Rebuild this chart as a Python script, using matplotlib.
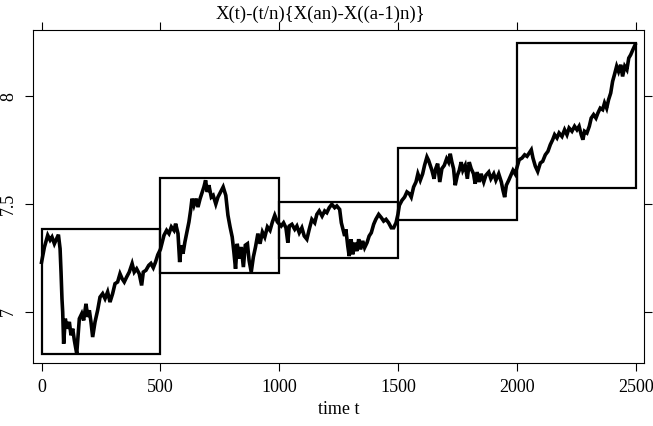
import matplotlib
matplotlib.use("Agg")
import matplotlib.pyplot as plt
from matplotlib.patches import Rectangle

# path (time, value)
t = [0, 12, 26, 36, 44, 54, 64, 71, 78, 82, 86, 89, 93, 100, 107, 117, 124, 131,
     138, 148, 155, 159, 169, 177, 187, 194, 201, 208, 215, 225, 236, 246, 257,
     267, 278, 288, 299, 309, 320, 330, 339, 348, 358, 369, 381, 390, 400, 411,
     421, 428, 439, 451, 460, 470, 479, 489, 500,
     515, 526, 536, 546, 557, 564, 574, 581, 588, 595, 603, 613, 620, 627, 633,
     641, 650, 658, 667, 676, 683, 690, 697, 704, 714, 722, 733, 742, 753, 764,
     775, 784, 793, 802, 809, 816, 823, 832, 840, 849, 857, 866, 873, 882, 891,
     900, 910, 919, 929, 939, 950, 961, 971, 981, 992,
     1008, 1018, 1028, 1036, 1042, 1053, 1065, 1074, 1084, 1095, 1105, 1116,
     1126, 1137, 1149, 1158, 1168, 1180, 1191, 1200, 1210, 1221, 1233, 1242,
     1254, 1261, 1268, 1275, 1280, 1288, 1294, 1302, 1309, 1317, 1326, 1334,
     1342, 1351, 1359, 1369, 1378, 1387, 1397, 1406, 1418, 1429, 1439, 1449,
     1460, 1471, 1481, 1491, 1499,
     1505, 1516, 1527, 1537, 1547, 1555, 1565, 1575, 1583, 1593, 1603, 1611,
     1621, 1628, 1635, 1642, 1651, 1658, 1666, 1675, 1684, 1694, 1704, 1712,
     1719, 1726, 1733, 1740, 1749, 1757, 1765, 1772, 1782, 1791, 1799, 1807,
     1817, 1824, 1832, 1841, 1849, 1860, 1869, 1881, 1890, 1902, 1911, 1923,
     1934, 1941, 1948, 1955, 1965, 1974, 1983, 1992, 2000,
     2009, 2021, 2032, 2042, 2051, 2060, 2067, 2077, 2087, 2098, 2108, 2119,
     2130, 2140, 2150, 2158, 2168, 2177, 2189, 2200, 2210, 2219, 2231, 2242,
     2252, 2261, 2270, 2277, 2284, 2294, 2304, 2312, 2322, 2332, 2340, 2350,
     2360, 2368, 2377, 2385, 2394, 2402, 2410, 2419, 2427, 2436, 2444, 2453,
     2462, 2470, 2478, 2487, 2497]
x = [7.23, 7.30, 7.355, 7.333, 7.347, 7.316, 7.34, 7.358, 7.293, 7.185, 7.06,
     7.0, 6.853, 6.969, 6.923, 6.954, 6.892, 6.923, 6.869, 6.807, 6.907, 6.969,
     6.992, 6.961, 7.038, 6.977, 7.008, 6.954, 6.884, 6.954, 7.008, 7.069,
     7.085, 7.062, 7.093, 7.046, 7.085, 7.131, 7.139, 7.177, 7.154, 7.139,
     7.162, 7.185, 7.224, 7.185, 7.20, 7.177, 7.123, 7.185, 7.193, 7.216,
     7.225, 7.205, 7.23, 7.265, 7.29,
     7.355, 7.378, 7.363, 7.394, 7.378, 7.409, 7.363, 7.231, 7.309, 7.27,
     7.324, 7.378, 7.417, 7.47, 7.525, 7.494, 7.525, 7.486, 7.525, 7.556,
     7.579, 7.61, 7.556, 7.587, 7.532, 7.54, 7.50, 7.532, 7.556, 7.579, 7.54,
     7.448, 7.394, 7.347, 7.278, 7.20, 7.316, 7.247, 7.301, 7.208, 7.309,
     7.316, 7.239, 7.185, 7.255, 7.301, 7.363, 7.316, 7.37, 7.347, 7.394,
     7.378, 7.417, 7.448, 7.417,
     7.398, 7.413, 7.39, 7.321, 7.398, 7.406, 7.383, 7.398, 7.367, 7.39,
     7.352, 7.337, 7.383, 7.429, 7.413, 7.452, 7.468, 7.444, 7.468, 7.46,
     7.483, 7.499, 7.483, 7.491, 7.475, 7.413, 7.383, 7.352, 7.383, 7.306,
     7.259, 7.337, 7.267, 7.321, 7.282, 7.337, 7.29, 7.329, 7.298, 7.321,
     7.352, 7.367, 7.406, 7.429, 7.452, 7.437, 7.421, 7.429, 7.413, 7.39,
     7.39, 7.413, 7.452,
     7.494, 7.517, 7.532, 7.556, 7.548, 7.532, 7.579, 7.602, 7.64, 7.61,
     7.64, 7.679, 7.718, 7.702, 7.679, 7.656, 7.617, 7.664, 7.687, 7.602,
     7.664, 7.679, 7.71, 7.694, 7.733, 7.694, 7.664, 7.587, 7.633, 7.656,
     7.694, 7.656, 7.679, 7.617, 7.694, 7.664, 7.64, 7.594, 7.648, 7.602,
     7.64, 7.602, 7.633, 7.648, 7.617, 7.64, 7.61, 7.64, 7.602, 7.563,
     7.532, 7.587, 7.61, 7.633, 7.656, 7.64, 7.671,
     7.705, 7.713, 7.728, 7.721, 7.736, 7.751, 7.713, 7.675, 7.651, 7.69,
     7.698, 7.728, 7.744, 7.775, 7.798, 7.821, 7.806, 7.829, 7.813, 7.844,
     7.821, 7.852, 7.837, 7.86, 7.844, 7.86, 7.821, 7.798, 7.837, 7.829,
     7.86, 7.898, 7.914, 7.898, 7.921, 7.944, 7.937, 7.968, 7.944, 7.983,
     8.014, 8.068, 8.10, 8.138, 8.114, 8.145, 8.091, 8.138, 8.122, 8.176,
     8.191, 8.214, 8.238]

# the five blocks
block_start = [0, 500, 1000, 1500, 2000]
block_end = [500, 1000, 1500, 2000, 2500]
block_low = [6.806, 7.18, 7.25, 7.426, 7.574]
block_high = [7.384, 7.62, 7.509, 7.759, 8.245]

plt.rcParams["font.family"] = "Liberation Serif"

fig = plt.figure(figsize=(6.53, 4.26), dpi=100)
ax = fig.add_axes([0.0505, 0.148, 0.9357, 0.7816])

ax.plot(t, x, color="black", linewidth=2.6, solid_joinstyle="miter")

for a in range(len(block_start)):
    r = Rectangle((block_start[a], block_low[a]), block_end[a] - block_start[a],
                  block_high[a] - block_low[a], fill=False, edgecolor="black",
                  linewidth=1.6)
    ax.add_patch(r)

ax.set_xlim(-36, 2534)
ax.set_ylim(6.764, 8.306)
ax.set_xticks([0, 500, 1000, 1500, 2000, 2500])
ax.set_yticks([7, 7.5, 8])
ax.set_yticklabels(["7", "7.5", "8"], rotation=90, va="center")
ax.tick_params(direction="out", length=5.5, width=0.8, labelsize=13,
               top=True, right=True, pad=6)
for s in ax.spines.values():
    s.set_linewidth(0.8)

ax.set_xlabel("time t", fontsize=13, labelpad=4)
ax.text(0.471, 1.022, "X(t)-(t/n){X(an)-X((a-1)n)}", transform=ax.transAxes,
        ha="center", va="bottom", fontsize=13.5)

fig.savefig("out.png", dpi=100)
